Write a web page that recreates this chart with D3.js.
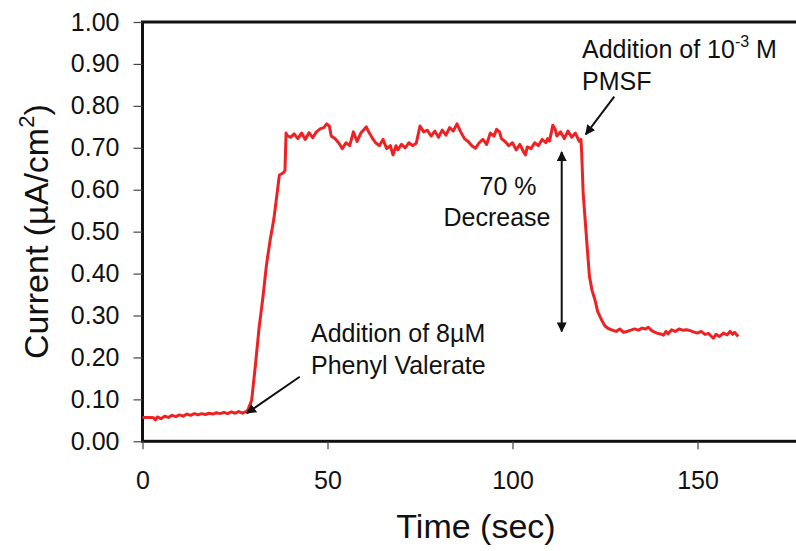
<!DOCTYPE html>
<html>
<head>
<meta charset="utf-8">
<script src="https://cdn.jsdelivr.net/npm/d3@7"></script>
<style>
  body { margin: 0; background: #fff; }
  svg { display: block; font-family: "Liberation Sans", Arial, sans-serif; }
</style>
</head>
<body>
<svg id="chart" width="796" height="551"></svg>
<script>
// time (sec) and current (uA/cm2)
var time = [0, 1, 2, 3, 3.5, 4, 5, 6, 7, 8, 9, 10, 11, 12, 13, 14, 15, 16, 17, 18, 19, 20,
    21, 22, 23, 24, 25, 26, 27, 28,
    28.5, 29.5, 30.5, 31.5, 32.5, 33.5, 34.5, 35.5, 36.5, 37, 38, 38.5, 38.8,
    39, 40, 41, 42, 43, 44, 45, 46, 47, 48, 49, 49.8, 50.5, 51, 52, 53, 54, 55, 56, 57, 58, 59,
    60, 60.5, 61, 62, 63, 64, 65, 66, 67, 67.7, 68.5, 69, 70, 71, 72, 73, 74, 75, 76, 77, 78,
    79, 80, 81, 82, 83, 84, 85, 86, 87, 88, 89, 90, 91, 92, 93, 94, 95, 95.7, 96.5, 97, 98, 99,
    100, 101, 102, 103, 103.5, 104, 105, 106, 107, 108, 109, 109.5, 110, 110.9, 111.5, 112, 113,
    114, 115, 116, 117, 118, 118.5,
    118.7, 119.1, 120.1, 120.8, 121.5, 122.3, 123, 124.1, 125, 125.9,
    127, 128, 129, 130, 130.9, 132, 133, 134, 135, 136, 136.7, 137.5, 138, 139, 140, 140.8,
    141.5, 142, 143, 143.5, 144, 145, 146, 147, 148, 148.9, 150, 151, 152, 153, 154, 154.3,
    155, 156, 157, 158, 158.8, 159.5, 160, 161];
var current = [0.057, 0.057, 0.057, 0.056, 0.051, 0.058, 0.054, 0.060, 0.057, 0.062, 0.059, 0.063,
    0.060, 0.065, 0.062, 0.066, 0.063, 0.066, 0.064, 0.067, 0.065, 0.068,
    0.066, 0.069, 0.066, 0.070, 0.067, 0.071, 0.067, 0.071,
    0.075, 0.098, 0.18, 0.27, 0.34, 0.42, 0.48, 0.53, 0.60, 0.635, 0.64, 0.645, 0.735,
    0.730, 0.725, 0.733, 0.722, 0.735, 0.720, 0.736, 0.724, 0.738, 0.745, 0.748, 0.757, 0.752,
    0.728, 0.722, 0.712, 0.698, 0.712, 0.705, 0.738, 0.715, 0.735,
    0.745, 0.750, 0.740, 0.725, 0.712, 0.705, 0.720, 0.698, 0.705, 0.683, 0.705, 0.695, 0.708,
    0.700, 0.712, 0.705, 0.711, 0.752, 0.738, 0.742, 0.728,
    0.740, 0.725, 0.742, 0.730, 0.748, 0.740, 0.757, 0.738, 0.722, 0.715, 0.705, 0.699, 0.712,
    0.720, 0.708, 0.735, 0.728, 0.744, 0.738, 0.722, 0.715, 0.705,
    0.712, 0.695, 0.708, 0.690, 0.683, 0.702, 0.698, 0.712, 0.705, 0.720, 0.712, 0.722, 0.716,
    0.754, 0.745, 0.728, 0.738,
    0.722, 0.740, 0.725, 0.735, 0.716, 0.720,
    0.688, 0.592, 0.473, 0.393, 0.360, 0.337, 0.310, 0.289, 0.275, 0.269,
    0.265, 0.262, 0.268, 0.260, 0.262, 0.265, 0.268, 0.265, 0.270, 0.268, 0.272, 0.265, 0.262,
    0.258, 0.256, 0.253,
    0.262, 0.256, 0.266, 0.264, 0.262, 0.268, 0.265, 0.266, 0.264, 0.261, 0.258, 0.262, 0.255,
    0.257, 0.248, 0.246,
    0.255, 0.250, 0.258, 0.254, 0.262, 0.255, 0.260, 0.250];

var xTicks = [0, 50, 100, 150];
var yTicks = [0, 0.1, 0.2, 0.3, 0.4, 0.5, 0.6, 0.7, 0.8, 0.9, 1.0];

var svg = d3.select("#chart");

var x = d3.scaleLinear().domain([0, 180]).range([142.5, 808.5]);
var y = d3.scaleLinear().domain([0, 1]).range([441.3, 22]);

var ink = "#111";

// frame (runs past the right edge of the picture)
svg.append("rect")
    .attr("x", x(0))
    .attr("y", y(1))
    .attr("width", x(180) - x(0))
    .attr("height", y(0) - y(1))
    .attr("fill", "none")
    .attr("stroke", ink)
    .attr("stroke-width", 3);

// y axis
var yAxis = svg.append("g")
    .attr("transform", "translate(" + x(0) + ",0)")
    .call(d3.axisLeft(y).tickValues(yTicks).tickSize(9).tickPadding(14)
        .tickFormat(d3.format(".2f")));
yAxis.select(".domain").remove();
yAxis.selectAll("line").attr("stroke", "#444").attr("stroke-width", 1.2);
yAxis.selectAll("text")
    .attr("font-size", 25)
    .attr("fill", ink)
    .attr("font-family", "Liberation Sans, Arial, sans-serif");

// x axis
var xAxis = svg.append("g")
    .attr("transform", "translate(0," + y(0) + ")")
    .call(d3.axisBottom(x).tickValues(xTicks).tickSize(8).tickPadding(22));
xAxis.select(".domain").remove();
xAxis.selectAll("line").attr("stroke", "#444").attr("stroke-width", 1.2);
xAxis.selectAll("text")
    .attr("font-size", 25)
    .attr("fill", ink)
    .attr("font-family", "Liberation Sans, Arial, sans-serif");

// axis titles
svg.append("text")
    .attr("x", 476)
    .attr("y", 538)
    .attr("text-anchor", "middle")
    .attr("font-size", 34)
    .attr("fill", ink)
    .text("Time (sec)");

var yt = svg.append("text")
    .attr("transform", "translate(48," + ((y(0) + y(1)) / 2) + ") rotate(-90)")
    .attr("text-anchor", "middle")
    .attr("font-size", 34)
    .attr("fill", ink);
yt.append("tspan").text("Current (µA/cm");
yt.append("tspan").attr("font-size", 22).attr("dy", -14).text("2");
yt.append("tspan").attr("dy", 14).text(")");

// data line
var pts = time.map(function(t, i) { return [t, current[i]]; });
svg.append("path")
    .datum(pts)
    .attr("fill", "none")
    .attr("stroke", "#ee2222")
    .attr("stroke-width", 3)
    .attr("stroke-linejoin", "round")
    .attr("d", d3.line()
        .x(function(d) { return x(d[0]); })
        .y(function(d) { return y(d[1]); }));

// arrowheads
var defs = svg.append("defs");
defs.append("marker")
    .attr("id", "head")
    .attr("viewBox", "0 0 10 10")
    .attr("refX", 9)
    .attr("refY", 5)
    .attr("markerWidth", 5)
    .attr("markerHeight", 5)
    .attr("markerUnits", "strokeWidth")
    .attr("orient", "auto-start-reverse")
    .append("path")
    .attr("d", "M0,0L10,5L0,10z")
    .attr("fill", ink);

function arrow(x1, y1, x2, y2, both) {
    var l = svg.append("line")
        .attr("x1", x1).attr("y1", y1)
        .attr("x2", x2).attr("y2", y2)
        .attr("stroke", ink)
        .attr("stroke-width", 2)
        .attr("marker-end", "url(#head)");
    if (both) l.attr("marker-start", "url(#head)");
}

// phenyl valerate note
arrow(x(42.5), y(0.154), x(28.2), y(0.067));
svg.append("text").attr("x", 311).attr("y", 342).attr("font-size", 25).attr("fill", ink)
    .text("Addition of 8µM");
svg.append("text").attr("x", 311).attr("y", 374).attr("font-size", 25).attr("fill", ink)
    .text("Phenyl Valerate");

// PMSF note
arrow(x(127.5), y(0.822), x(119.8), y(0.732));
var t2 = svg.append("text").attr("x", 582).attr("y", 58).attr("font-size", 25).attr("fill", ink);
t2.append("tspan").text("Addition of 10");
t2.append("tspan").attr("font-size", 16).attr("dy", -11).text("-3");
t2.append("tspan").attr("dy", 11).text(" M");
svg.append("text").attr("x", 582).attr("y", 90).attr("font-size", 25).attr("fill", ink)
    .text("PMSF");

// decrease note
arrow(x(113.3), y(0.69), x(113.3), y(0.262), true);
svg.append("text").attr("x", 508).attr("y", 195).attr("text-anchor", "middle")
    .attr("font-size", 25).attr("fill", ink).text("70 %");
svg.append("text").attr("x", 497).attr("y", 226).attr("text-anchor", "middle")
    .attr("font-size", 25).attr("fill", ink).text("Decrease");
</script>
</body>
</html>
